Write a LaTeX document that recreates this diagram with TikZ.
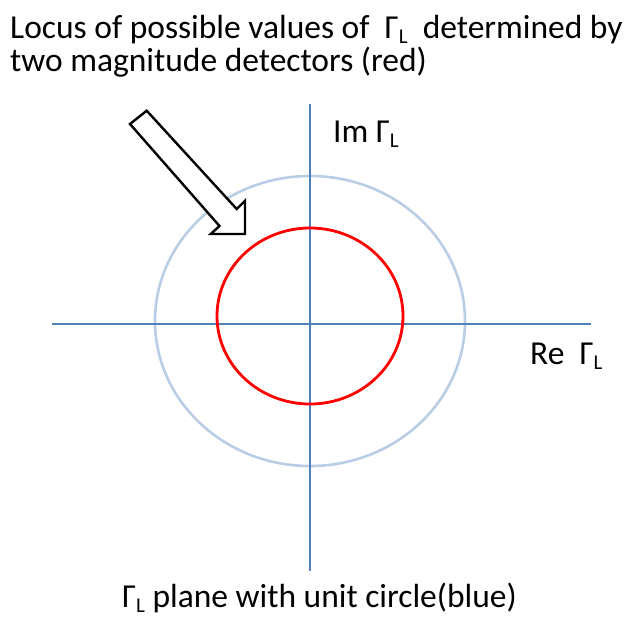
\documentclass[tikz,border=0pt]{standalone}
\usepackage{fontspec}
\setmainfont{Carlito}
\definecolor{axisblue}{RGB}{79,129,189}
\definecolor{unitblue}{RGB}{185,205,229}
\definecolor{locusred}{RGB}{255,0,0}
\newcommand\GamL{Γ{\fontsize{21}{21}\selectfont\raisebox{-5.5pt}{L}}}
\begin{document}
\begin{tikzpicture}[x=1pt,y=-1pt,
  axisline/.style={draw=axisblue,line width=1.6pt},
  unitcirc/.style={draw=unitblue,line width=2.6pt},
  locus/.style={draw=locusred,line width=2.8pt},
  lbl/.style={inner sep=0pt,anchor=base west,font=\fontsize{33.5}{33}\selectfont},
  blockarrow/.style={draw=black,line width=2.4pt,fill=white,line join=miter}]
\useasboundingbox (0,0) rectangle (629,619);
% axes
\coordinate (vtop) at (310,104);
\coordinate (vbot) at (310,571);
\coordinate (hleft) at (52,324);
\coordinate (hright) at (591,324);
\coordinate (ucen) at (310,321);
\coordinate (rcen) at (310,316);
\draw[unitcirc] (ucen) ellipse [x radius=155pt, y radius=145pt];
\draw[axisline] (vtop) -- (vbot);
\draw[axisline] (hleft) -- (hright);
\draw[locus] (rcen) ellipse [x radius=93pt, y radius=88pt];
% block arrow
\draw[blockarrow] (130,124) -- (146.7,110.7) -- (236.7,209) -- (245,200.7)
  -- (245,234) -- (210.7,234) -- (219.5,226) -- cycle;
% labels
\node[lbl,align=left] (title) at (10,71) {Locus of possible values of\ \ \GamL\ \ determined by\\two magnitude detectors (red)};
\node[lbl] (imlbl) at (333,142) {Im \GamL};
\node[lbl] (relbl) at (530,364) {Re\ \ \GamL};
\node[lbl] (caption) at (122,607) {\GamL\ plane with unit circle(blue)};
\end{tikzpicture}
\end{document}
